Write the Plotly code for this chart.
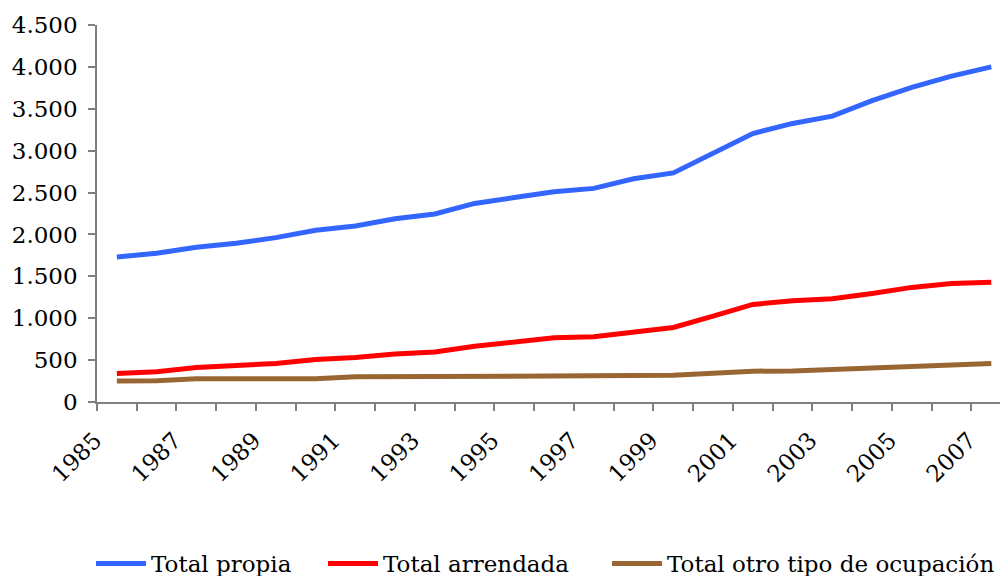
import plotly.graph_objects as go

years = [str(y) for y in range(1985, 2008)]
total_propia = [1730, 1775, 1848, 1894, 1962, 2050, 2100, 2188, 2244, 2370, 2440, 2510, 2550,
                2665, 2735, 2975, 3205, 3325, 3412, 3597, 3755, 3890, 4000]
total_arrendada = [340, 362, 412, 434, 460, 508, 532, 572, 596, 666, 712, 766, 780,
                   838, 890, 1025, 1165, 1208, 1232, 1296, 1368, 1415, 1430]
total_otro = [252, 254, 278, 278, 278, 278, 300, 302, 302, 302, 302, 318, 318,
              318, 318, 342, 368, 370, 386, 412, 414, 436, 460]
tick_labels = [y if i % 2 == 0 else "" for i, y in enumerate(years)]

series = [
    ("Total propia", total_propia, "#3366FF", "legend"),
    ("Total arrendada", total_arrendada, "#FF0000", "legend2"),
    ("Total otro tipo de ocupación", total_otro, "#996633", "legend3"),
]

font_family = "DejaVu Serif"
fsize = 23
W, H = 1000, 568  # page body has an 8px default margin

fig = go.Figure()
for name, vals, color, lg in series:
    fig.add_trace(go.Scatter(x=years, y=vals, name=name, mode="lines", legend=lg,
                             line=dict(color=color, width=5)))

def leg(xpx):
    return dict(orientation="h", xref="container", yref="container",
                x=xpx / W, y=0.022, xanchor="left", yanchor="middle",
                font=dict(family=font_family, size=23), itemwidth=50,
                bgcolor="rgba(0,0,0,0)")

fig.update_layout(
    width=W, height=H,
    margin=dict(l=89, r=0, t=17, b=174),
    paper_bgcolor="white", plot_bgcolor="white",
    separators=",.",
    font=dict(family=font_family, size=fsize, color="black"),
    showlegend=True,
    legend=leg(83), legend2=leg(315), legend3=leg(599),
)
fig.update_xaxes(type="category", tickmode="array", tickvals=years, ticktext=tick_labels,
                 tickson="boundaries", ticks="outside", ticklen=7, tickcolor="#808080",
                 tickwidth=1.5, showline=True, linecolor="#808080", linewidth=1.5,
                 showgrid=False, zeroline=False, tickangle=-45, automargin=False,
                 ticklabelshift=-22, ticklabelstandoff=14,
                 range=[-0.5, 22.42],
                 tickfont=dict(family=font_family, size=fsize))
fig.update_yaxes(range=[0, 4500], dtick=500, tickformat=",", ticks="outside", ticklen=7,
                 tickcolor="#808080", tickwidth=1.5, showline=True, linecolor="#808080",
                 linewidth=1.5, showgrid=False, zeroline=False, automargin=False,
                 ticklabelstandoff=6,
                 tickfont=dict(family=font_family, size=fsize))

fig.write_html("out.html")
